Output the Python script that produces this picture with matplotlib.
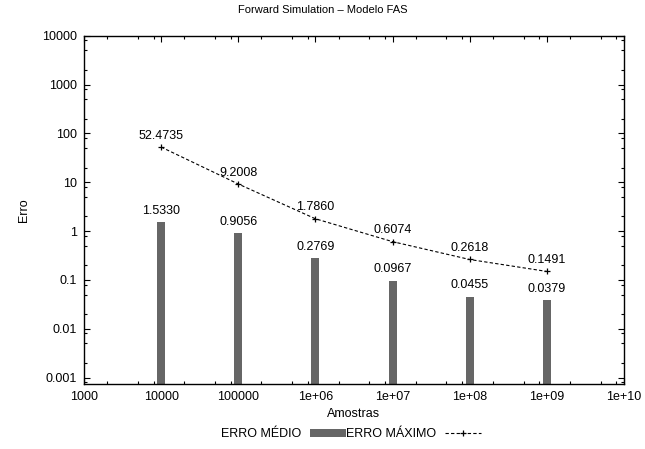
import numpy as np
import matplotlib
matplotlib.use('Agg')
import matplotlib.pyplot as plt
from matplotlib.patches import Patch
from matplotlib.lines import Line2D
from matplotlib.ticker import LogLocator, NullFormatter

plt.rcParams['font.family'] = ['Liberation Sans', 'DejaVu Sans']
plt.rcParams['font.size'] = 9

# sample sizes and errors of the forward simulation
amostras = [1e4, 1e5, 1e6, 1e7, 1e8, 1e9]
erro_medio = [1.5330, 0.9056, 0.2769, 0.0967, 0.0455, 0.0379]
erro_maximo = [52.4735, 9.2008, 1.7860, 0.6074, 0.2618, 0.1491]

x_ticks = [1e3, 1e4, 1e5, 1e6, 1e7, 1e8, 1e9, 1e10]
x_labels = ['1000', '10000', '100000', '1e+06', '1e+07', '1e+08', '1e+09', '1e+10']
y_ticks = [0.001, 0.01, 0.1, 1, 10, 100, 1000, 10000]
y_labels = ['0.001', '0.01', '0.1', '1', '10', '100', '1000', '10000']

bar_color = '#666666'

fig = plt.figure(figsize=(6.45, 4.49), dpi=100)
ax = fig.add_axes([0.1302, 0.1448, 0.8372, 0.7757])
ax.set_xscale('log')
ax.set_yscale('log')

# bars keep a constant width on the log axis
half = 0.052
x = np.array(amostras)
ax.bar(x * 10 ** -half, erro_medio, width=x * (10 ** half - 10 ** -half),
       align='edge', color=bar_color, linewidth=0, zorder=2)
ax.plot(amostras, erro_maximo, color='black', lw=0.8, linestyle=(0, (3, 2)),
        marker='+', markersize=5, markeredgewidth=0.9, zorder=3)

for xi, v in zip(amostras, erro_medio):
    ax.annotate(f'{v:.4f}', (xi, v), xytext=(0, 6), textcoords='offset points',
                ha='center', va='baseline')
for xi, v in zip(amostras, erro_maximo):
    ax.annotate(f'{v:.4f}', (xi, v), xytext=(0, 6), textcoords='offset points',
                ha='center', va='baseline')

ax.set_xlim(1e3, 1e10)
ax.set_ylim(0.00074, 10000)
ax.set_xticks(x_ticks)
ax.set_xticklabels(x_labels)
ax.set_yticks(y_ticks)
ax.set_yticklabels(y_labels)
ax.xaxis.set_minor_locator(LogLocator(base=10, subs=(2, 5, 8), numticks=20))
ax.yaxis.set_minor_locator(LogLocator(base=10, subs=(2, 5, 8), numticks=20))
ax.xaxis.set_minor_formatter(NullFormatter())
ax.yaxis.set_minor_formatter(NullFormatter())
ax.tick_params(which='both', direction='in', top=True, right=True, width=0.8)
ax.tick_params(which='major', length=4, pad=5)
ax.tick_params(which='minor', length=2)
for s in ax.spines.values():
    s.set_linewidth(1.0)

ax.set_xlabel('Amostras', labelpad=4)
ax.set_ylabel('Erro', labelpad=9)
fig.text(0.5, 0.978, 'Forward Simulation \u2013 Modelo FAS', ha='center', va='center',
         fontsize=8)

handles = [Patch(facecolor=bar_color, edgecolor='none'),
           Line2D([], [], color='black', lw=0.8, linestyle=(0, (3, 2)),
                  marker='+', markersize=5, markeredgewidth=0.9)]
fig.legend(handles, ['ERRO MÉDIO', 'ERRO MÁXIMO'], loc='center',
           bbox_to_anchor=(0.544, 0.0334), ncol=2, markerfirst=False,
           frameon=False, handlelength=2.9, handleheight=0.6,
           handletextpad=0.7, columnspacing=0.0, numpoints=1)

fig.savefig('out.png', dpi=100)
